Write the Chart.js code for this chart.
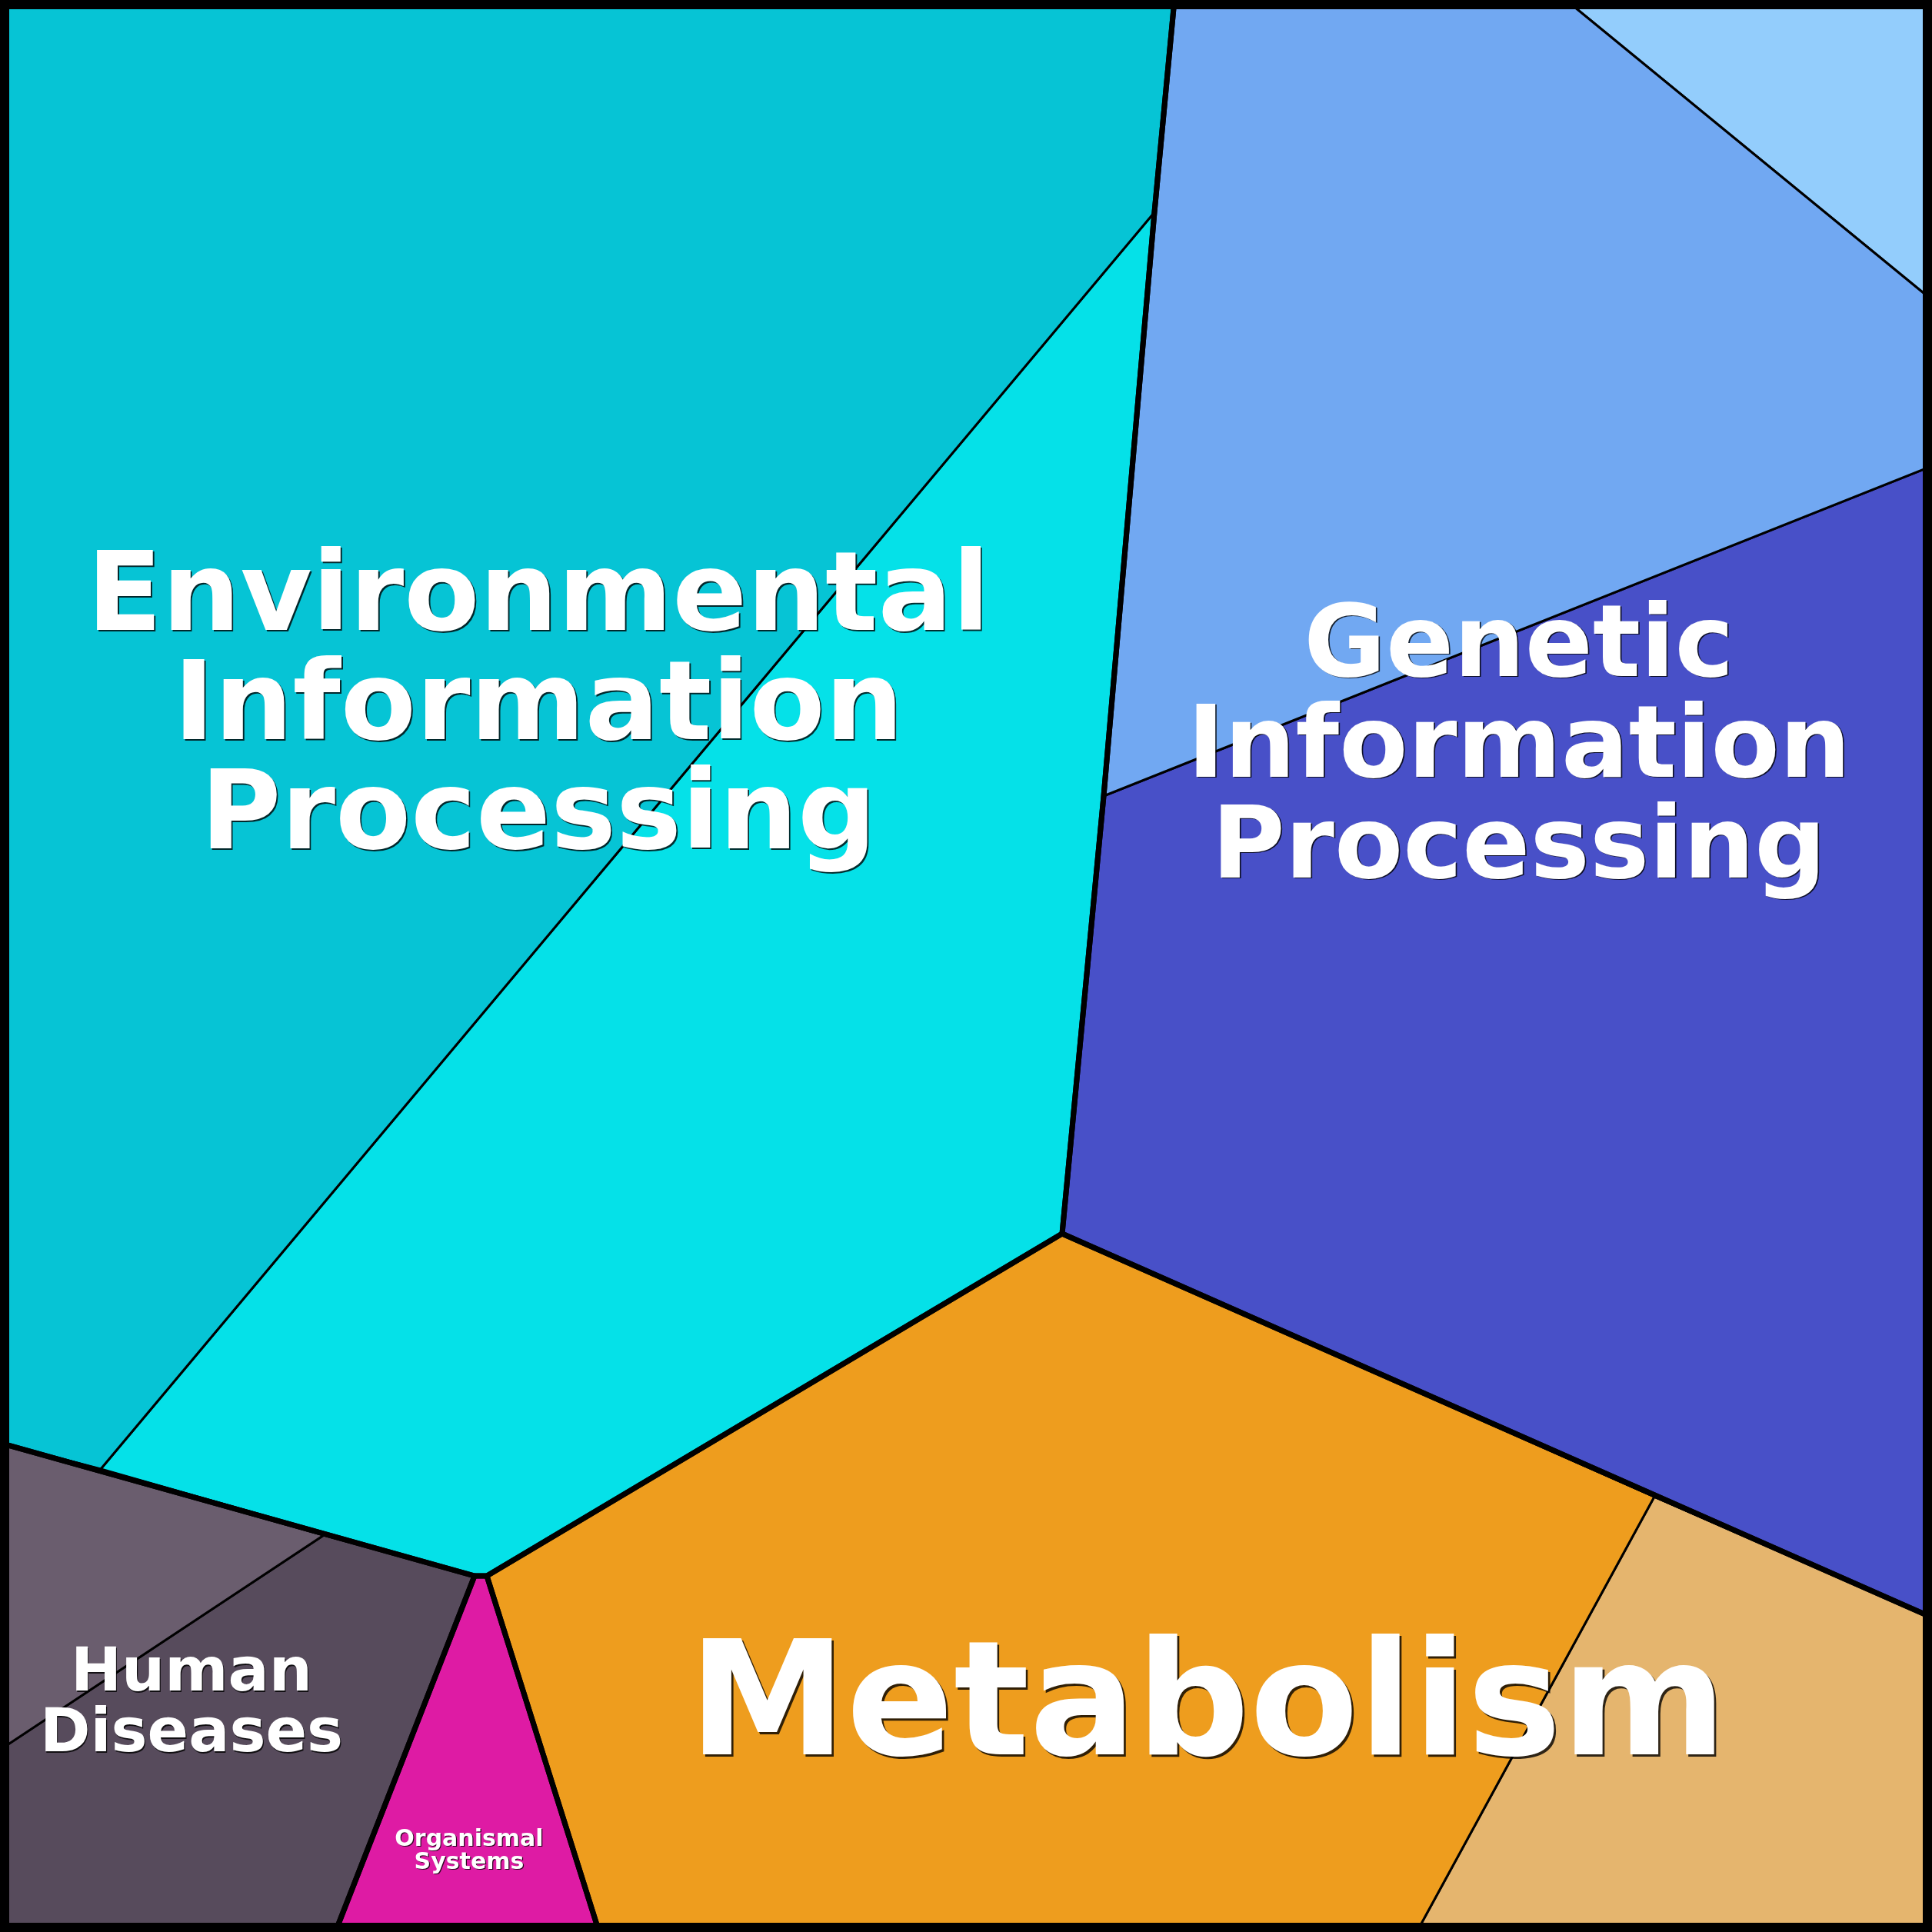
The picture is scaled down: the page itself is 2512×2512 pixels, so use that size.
<!DOCTYPE html>
<html>
<head>
<meta charset="utf-8">
<script src="https://cdn.jsdelivr.net/npm/chart.js@4.4.1/dist/chart.umd.min.js"></script>
<style>
  html, body { margin: 0; padding: 0; background: #fff; }
  #wrap { width: 2512px; height: 2512px; }
</style>
</head>
<body>
<div id="wrap"><canvas id="voronoi" width="2512" height="2512"></canvas></div>
<script>
// Voronoi treemap of KEGG categories, cell outlines in a 0..2512 unit square

// leaf cells (vertex lists)
const envCellA = [[0, 0], [1527, 0], [1501, 276], [131, 1910], [0, 1876]];
const envCellB = [[1501, 276], [1435, 1035], [1381, 1604], [633, 2049], [617, 2049], [131, 1910]];
const genCellA = [[1527, 0], [2036, 0], [2512, 390], [2512, 606], [1435, 1035], [1501, 276]];
const genCellB = [[2036, 0], [2512, 0], [2512, 390]];
const genCellC = [[1435, 1035], [2512, 606], [2512, 2103], [2151, 1946], [1381, 1604]];
const metCellA = [[1381, 1604], [2151, 1946], [1842, 2512], [779, 2512], [633, 2049]];
const metCellB = [[2151, 1946], [2512, 2103], [2512, 2512], [1842, 2512]];
const humCellA = [[0, 1876], [421, 1996], [0, 2275]];
const humCellB = [[421, 1996], [617, 2049], [436, 2512], [0, 2512], [0, 2275]];
const orgCellA = [[617, 2049], [633, 2049], [779, 2512], [436, 2512]];

// top level categories (vertex lists)
const envOutline = [[0, 0], [1527, 0], [1501, 276], [1435, 1035], [1381, 1604], [633, 2049], [617, 2049], [0, 1876]];
const genOutline = [[1527, 0], [2512, 0], [2512, 2103], [1381, 1604], [1435, 1035], [1501, 276]];
const metOutline = [[1381, 1604], [2512, 2103], [2512, 2512], [779, 2512], [633, 2049]];
const humOutline = [[0, 1876], [617, 2049], [436, 2512], [0, 2512]];
const orgOutline = [[617, 2049], [633, 2049], [779, 2512], [436, 2512]];
const frame = [[0, 0], [2512, 0], [2512, 2512], [0, 2512]];

const categories = ['Environmental Information Processing', 'Genetic Information Processing', 'Metabolism', 'Human Diseases', 'Organismal Systems'];
const labelLines = [
    ['Environmental', 'Information', 'Processing'],
    ['Genetic', 'Information', 'Processing'],
    ['Metabolism'],
    ['Human', 'Diseases'],
    ['Organismal', 'Systems']
];

// styles
const cells = [
    { pts: envCellA, color: '#06c4d5' },
    { pts: envCellB, color: '#05e1e8' },
    { pts: genCellA, color: '#71a8f2' },
    { pts: genCellB, color: '#93cdfc' },
    { pts: genCellC, color: '#4850c8' },
    { pts: metCellA, color: '#ee9d1e' },
    { pts: metCellB, color: '#e5b56e' },
    { pts: humCellA, color: '#6a5d6e' },
    { pts: humCellB, color: '#574b5c' },
    { pts: orgCellA, color: '#de1ba4' }
];
const outlines = [envOutline, genOutline, metOutline, humOutline, orgOutline];

// label placement: center x, first line center y, line step, font size
const labelStyle = [
    { x: 700, y: 771, step: 142, size: 143 },
    { x: 1975, y: 835, step: 131, size: 130 },
    { x: 1570, y: 2212, step: 0, size: 206 },
    { x: 249, y: 2172, step: 79, size: 79 },
    { x: 610, y: 2390, step: 30, size: 30 }
];

function closed(pts) {
    const out = pts.map(p => ({ x: p[0], y: p[1] }));
    out.push({ x: pts[0][0], y: pts[0][1] });
    return out;
}

const datasets = [];
cells.forEach((c, i) => {
    datasets.push({
        label: 'cell ' + i,
        data: closed(c.pts),
        showLine: true,
        fill: 'shape',
        backgroundColor: c.color,
        borderColor: '#000',
        borderWidth: 3,
        borderJoinStyle: 'miter',
        pointRadius: 0,
        tension: 0,
        order: 3
    });
});
outlines.forEach((pts, i) => {
    datasets.push({
        label: categories[i],
        data: closed(pts),
        showLine: true,
        fill: false,
        borderColor: '#000',
        borderWidth: 7,
        borderJoinStyle: 'miter',
        pointRadius: 0,
        tension: 0,
        order: 2
    });
});
datasets.push({
    label: 'frame',
    data: closed(frame),
    showLine: true,
    fill: false,
    borderColor: '#000',
    borderWidth: 24,
    pointRadius: 0,
    tension: 0,
    clip: false,
    order: 1
});

const labelPlugin = {
    id: 'cellLabels',
    afterDatasetsDraw(chart) {
        const ctx = chart.ctx;
        const xs = chart.scales.x;
        const ys = chart.scales.y;
        ctx.save();
        ctx.textAlign = 'center';
        ctx.textBaseline = 'middle';
        labelLines.forEach((lines, i) => {
            const st = labelStyle[i];
            ctx.font = 'bold ' + st.size + 'px "DejaVu Sans"';
            const off = Math.max(1.2, st.size / 75);
            lines.forEach((txt, j) => {
                const px = xs.getPixelForValue(st.x);
                const py = ys.getPixelForValue(st.y + j * st.step);
                ctx.shadowColor = 'rgba(0,0,0,0.8)';
                ctx.shadowOffsetX = off;
                ctx.shadowOffsetY = off;
                ctx.shadowBlur = 0;
                ctx.fillStyle = '#ffffff';
                // middle baseline sits on x-height, nudge so caps center on y
                ctx.fillText(txt, px, py + st.size * 0.075);
            });
        });
        ctx.restore();
    }
};

new Chart(document.getElementById('voronoi'), {
    type: 'scatter',
    data: { datasets },
    options: {
        responsive: false,
        animation: false,
        devicePixelRatio: 1,
        layout: { padding: 0 },
        plugins: {
            legend: { display: false },
            tooltip: { enabled: false }
        },
        scales: {
            x: { type: 'linear', min: 0, max: 2512, display: false },
            y: { type: 'linear', min: 0, max: 2512, reverse: true, display: false }
        }
    },
    plugins: [labelPlugin]
});
</script>
</body>
</html>
